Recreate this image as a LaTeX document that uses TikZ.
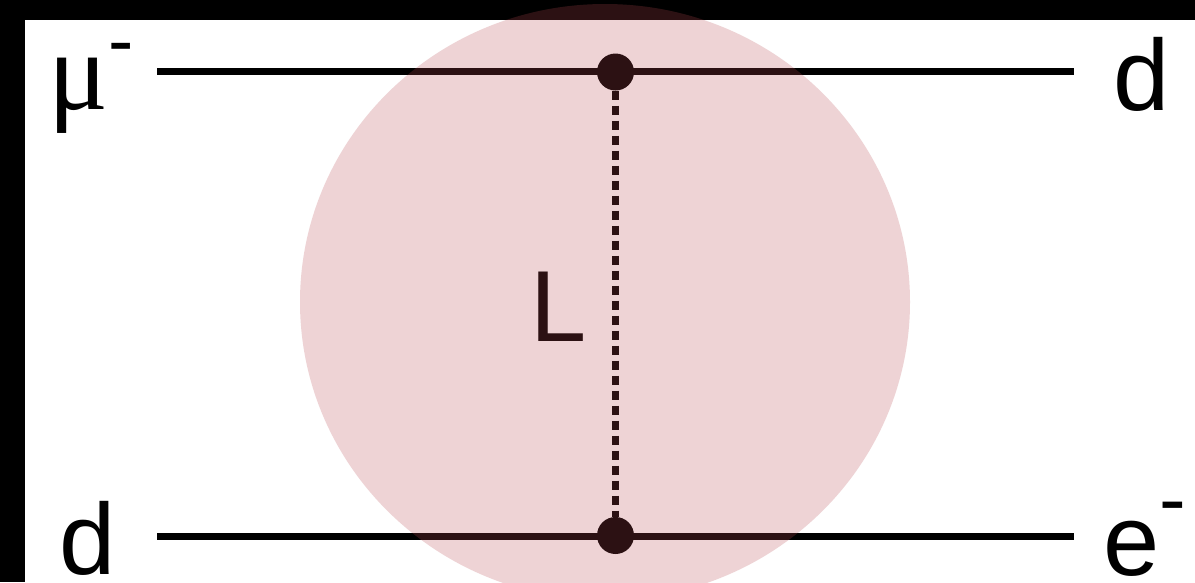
\documentclass[tikz,border=0pt]{standalone}
\usepackage{fontspec}
\setmainfont{Liberation Sans}
\newfontfamily\serifmu{Liberation Serif}
\definecolor{blobred}{RGB}{185,74,82}
\begin{document}
\begin{tikzpicture}[x=1pt,y=-1pt,
  fermion/.style={line width=7pt},
  vertex/.style={circle,fill=black,inner sep=0pt,minimum size=37pt},
  prop/.style={line width=7pt,dash pattern=on 9.5pt off 5.5pt},
  lab/.style={anchor=base west,inner sep=0pt,font=\fontsize{101pt}{101pt}\selectfont},
  blob/.style={fill=blobred,fill opacity=0.24}]
\useasboundingbox (0,0) rectangle (1195,582);
\fill[black] (0,0) rectangle (1195,582);
\fill[white] (25,20) rectangle (1195,582);
% external points
\coordinate (a1) at (157,71);
\coordinate (b1) at (1074,71);
\coordinate (a2) at (157,536.5);
\coordinate (b2) at (1074,536.5);
\node[vertex] (v1) at (615.5,72) {};
\node[vertex] (v2) at (615.5,535.5) {};
\draw[fermion] (a1) -- (b1);
\draw[fermion] (a2) -- (b2);
\draw[prop] (v1) -- (v2);
% labels
\node[lab] (mu) at (48,109) {{\serifmu\fontsize{112pt}{112pt}\selectfont μ}\raisebox{43pt}{\fontsize{76pt}{76pt}\selectfont -}};
\node[lab] (dtop) at (1113.5,110) {d};
\node[lab] (dbot) at (59.5,574) {d};
\node[lab] (el) at (1103,575) {e\raisebox{49pt}{\fontsize{80pt}{80pt}\selectfont -}};
\node[lab] (L) at (530,341) {L};
% blob
\fill[blob] (605,302) ellipse [x radius=305, y radius=298];
\end{tikzpicture}
\end{document}
